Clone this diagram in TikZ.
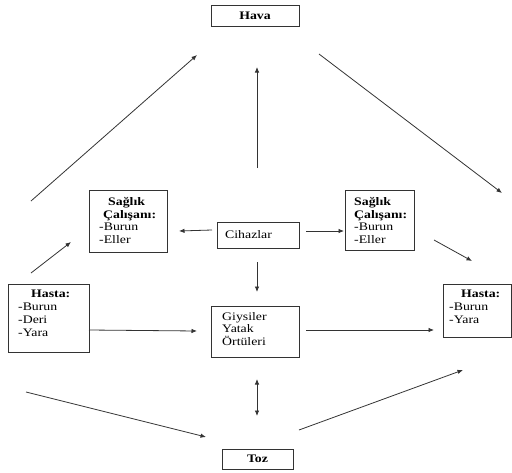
\documentclass[tikz,border=0pt]{standalone}
\usepackage{fontspec}
\setmainfont{Liberation Serif}[FakeStretch=1.2]
\usetikzlibrary{arrows.meta}
\begin{document}
\begin{tikzpicture}[x=1pt,y=-1pt,
  box/.style={draw=black!80, line width=0.9pt, inner sep=0pt},
  txt/.style={inner sep=0pt, align=left, anchor=north west, font=\fontsize{11.5}{12.8}\selectfont},
  ctxt/.style={inner sep=0pt, font=\fontsize{11.5}{12.8}\selectfont},
  conn/.style={draw=black!80, line width=0.8pt, -{Latex[length=5.5pt,width=4.5pt]}},
  dconn/.style={draw=black!80, line width=0.8pt, {Latex[length=5.5pt,width=4.5pt]}-{Latex[length=5.5pt,width=4.5pt]}}]
\useasboundingbox (0,0) rectangle (512,472);
% boxes
\node[box, minimum width=88pt, minimum height=21pt] (hava) at (255,15.5) {};
\node[box, minimum width=78pt, minimum height=62pt] (sl) at (128,221) {};
\node[box, minimum width=82pt, minimum height=26pt] (cih) at (258,235) {};
\node[box, minimum width=69pt, minimum height=60pt] (sr) at (379.5,220) {};
\node[box, minimum width=81pt, minimum height=68pt] (hl) at (48.5,318) {};
\node[box, minimum width=88pt, minimum height=51pt] (giy) at (255,331.5) {};
\node[box, minimum width=68pt, minimum height=53pt] (hr) at (477,310.5) {};
\node[box, minimum width=71pt, minimum height=20pt] (toz) at (257.5,459) {};
% texts
\node[ctxt] (havat) at (hava.center) {\textbf{Hava}};
\node[txt] (slt) at (99,197) {\hspace*{9pt}\textbf{Sağlık}\\\hspace*{4pt}\textbf{Çalışanı:}\\-Burun\\-Eller};
\node[txt] (srt) at (354,197) {\textbf{Sağlık}\\\textbf{Çalışanı:}\\-Burun\\-Eller};
\node[ctxt, anchor=west] (ciht) at (225,235) {Cihazlar};
\node[txt] (hlt) at (18,290) {\hspace*{13pt}\textbf{Hasta:}\\-Burun\\-Deri\\-Yara};
\node[txt] (hrt) at (449,290) {\hspace*{12pt}\textbf{Hasta:}\\-Burun\\-Yara};
\node[txt] (giyt) at (222,312) {Giysiler\\Yatak\\Örtüleri};
\node[ctxt] (tozt) at (toz.center) {\textbf{Toz}};
% connector end points
\coordinate (a1) at (31,201);   \coordinate (b1) at (197,55);
\coordinate (a2) at (257,168);  \coordinate (b2) at (257,67);
\coordinate (a3) at (319,54);   \coordinate (b3) at (502,193);
\coordinate (a4) at (212,230);  \coordinate (b4) at (179,231);
\coordinate (a5) at (306,231);  \coordinate (b5) at (344,231);
\coordinate (a6) at (31,273);   \coordinate (b6) at (71,242);
\coordinate (a7) at (434,240);  \coordinate (b7) at (472,261);
\coordinate (a8) at (257,262);  \coordinate (b8) at (257,292);
\coordinate (a9) at (89,330);   \coordinate (b9) at (197,331);
\coordinate (a10) at (306,330); \coordinate (b10) at (434,330);
\coordinate (a11) at (257,379); \coordinate (b11) at (257,416);
\coordinate (a12) at (26,392);  \coordinate (b12) at (206,437);
\coordinate (a13) at (299,430); \coordinate (b13) at (463,370);
% connectors
\draw[conn] (a1) -- (b1);
\draw[conn] (a2) -- (b2);
\draw[conn] (a3) -- (b3);
\draw[conn] (a4) -- (b4);
\draw[conn] (a5) -- (b5);
\draw[conn] (a6) -- (b6);
\draw[conn] (a7) -- (b7);
\draw[conn] (a8) -- (b8);
\draw[conn] (a9) -- (b9);
\draw[conn] (a10) -- (b10);
\draw[dconn] (a11) -- (b11);
\draw[conn] (a12) -- (b12);
\draw[conn] (a13) -- (b13);
\end{tikzpicture}
\end{document}
